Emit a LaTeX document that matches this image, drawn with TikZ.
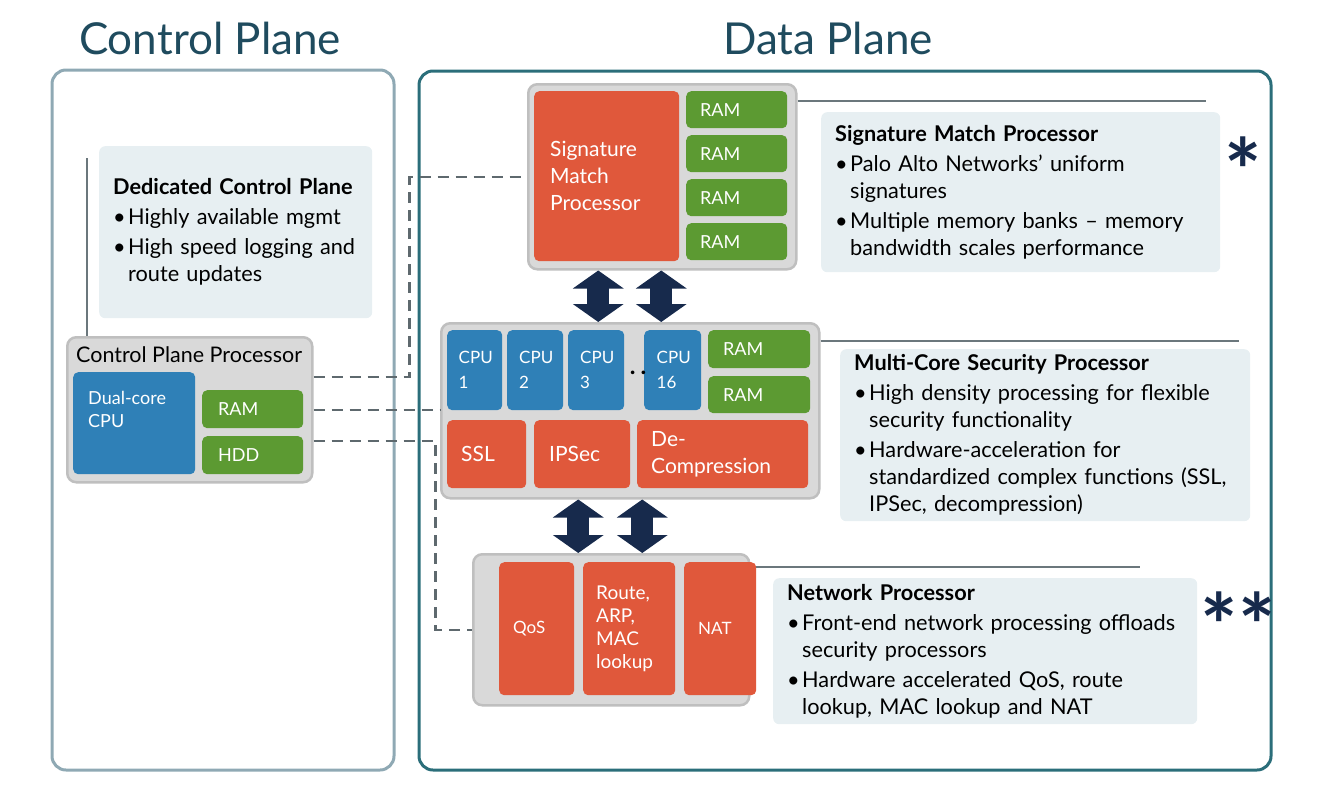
\documentclass[tikz,border=0pt]{standalone}
\usepackage{fontspec}
\setmainfont{Lato}
\usetikzlibrary{arrows.meta}

\definecolor{titleblue}{HTML}{1F4B5E}
\definecolor{cpedge}{HTML}{8FA9B4}
\definecolor{dpedge}{HTML}{2B6E7A}
\definecolor{chipgray}{HTML}{D9D9D9}
\definecolor{chipedge}{HTML}{BFBFBF}
\definecolor{accred}{HTML}{E0583B}
\definecolor{ramgreen}{HTML}{5C9A32}
\definecolor{cpublue}{HTML}{2F80B7}
\definecolor{notebg}{HTML}{E7EFF2}
\definecolor{busnavy}{HTML}{172A4C}
\definecolor{linkgray}{HTML}{5E696E}
\definecolor{leadgray}{HTML}{6B777C}

\newcommand{\bul}{\makebox[15pt][l]{\textbullet}}
\newcommand{\ind}{\hspace*{15pt}}

\begin{document}
\begin{tikzpicture}[x=1pt,y=-1pt,
  plane/.style={rounded corners=14pt, line width=3pt},
  ptitle/.style={text=titleblue, font=\fontsize{44}{44}\selectfont},
  chip/.style={draw=chipedge, fill=chipgray, line width=2.5pt, rounded corners=9pt,
    anchor=north west, inner sep=0pt},
  blk/.style={rounded corners=5pt, text=white, align=left, anchor=north west,
    inner ysep=0pt, inner xsep=14pt},
  ram/.style={blk, fill=ramgreen, font=\fontsize{18}{22}\selectfont},
  cpu/.style={blk, fill=cpublue, font=\fontsize{17}{25}\selectfont},
  acc/.style={blk, fill=accred, font=\fontsize{21}{27}\selectfont},
  lbl/.style={inner sep=0pt, align=left},
  note/.style={fill=notebg, rounded corners=6pt, anchor=north west, align=left,
    inner xsep=14pt, inner ysep=0pt, font=\fontsize{21.7}{27}\selectfont},
  link/.style={draw=linkgray, line width=2.3pt, dash pattern=on 11pt off 7pt},
  lead/.style={draw=leadgray, line width=1.6pt},
  bus/.style={draw=busnavy, line width=22pt,
    {Triangle[length=18pt,width=50pt]}-{Triangle[length=18pt,width=50pt]}},
  star/.style={text=busnavy, font=\bfseries\fontsize{88}{88}\selectfont, inner sep=0pt}]

  \useasboundingbox (0,0) rectangle (1343,800);

  % planes
  \draw[plane, draw=cpedge] (52,70) rectangle (394,770);
  \draw[plane, draw=dpedge] (419,71) rectangle (1271,770);
  \node[ptitle] (cptitle) at (210,38) {Control Plane};
  \node[ptitle] (dptitle) at (828,38) {Data Plane};

  % control plane processor
  \node[chip, minimum width=245pt, minimum height=145pt] (cpp) at (66,336) {};
  \node[lbl, anchor=west, font=\fontsize{21.5}{25}\selectfont] (cpptitle)
    at ([xshift=10pt,yshift=-19pt]cpp.north west) {Control Plane Processor};
  \node[blk, fill=cpublue, minimum width=122pt, minimum height=102pt] (dual) at (73,372) {};
  \node[lbl, anchor=north west, text=white, font=\fontsize{18}{23}\selectfont] (dualtxt)
    at ([xshift=15pt,yshift=-19pt]dual.north west) {Dual-core\\CPU};
  \node[ram, text width=69pt, inner xsep=16pt, minimum height=38pt] (cpram) at (202,390) {RAM};
  \node[ram, text width=69pt, inner xsep=16pt, minimum height=38pt] (cphdd) at (202,436) {HDD};

  % signature match processor
  \node[chip, minimum width=268pt, minimum height=185pt] (smp) at (527,83) {};
  \node[acc, text width=113pt, inner xsep=16pt, minimum height=170pt] (smpcore) at (534,91)
    {Signature\\Match\\Processor};
  \foreach \i/\y in {1/91,2/135,3/179,4/223}
    \node[ram, text width=73pt, minimum height=37pt] (smpram\i) at (686,\y) {RAM};

  % multi-core security processor
  \node[chip, minimum width=378pt, minimum height=175pt] (mcsp) at (440,322) {};
  \node[cpu, text width=32pt, inner xsep=0pt, minimum width=55pt, minimum height=80pt] (cpu1) at (447,330) {CPU\\1};
  \node[cpu, text width=32pt, inner xsep=0pt, minimum width=56pt, minimum height=80pt] (cpu2) at (507,330) {CPU\\2};
  \node[cpu, text width=32pt, inner xsep=0pt, minimum width=56pt, minimum height=80pt] (cpu3) at (568,330) {CPU\\3};
  \node[cpu, text width=32pt, inner xsep=0pt, minimum width=57pt, minimum height=80pt] (cpu16) at (644,330) {CPU\\16};
  \node[lbl, font=\bfseries\fontsize{24}{24}\selectfont] (cpudots) at (638,373) {.\hspace{5pt}.};
  \node[ram, text width=72pt, inner xsep=15pt, minimum height=38pt] (mcram1) at (708,330) {RAM};
  \node[ram, text width=72pt, inner xsep=15pt, minimum height=37pt] (mcram2) at (708,376) {RAM};
  \node[acc, text width=51pt, minimum height=68pt] (ssl) at (447,420) {SSL};
  \node[acc, text width=66pt, inner xsep=15pt, minimum height=68pt] (ipsec) at (534,420) {IPSec};
  \node[acc, text width=143pt, minimum height=68pt] (decomp) at (637,420) {De-\\Compression};

  % network processor
  \node[chip, minimum width=276pt, minimum height=151pt] (np) at (472,553) {};
  \node[acc, font=\fontsize{17}{23}\selectfont, text width=47pt,
    minimum height=133pt] (qos) at (499,562) {QoS};
  \node[acc, font=\fontsize{19}{23}\selectfont, text width=66pt, inner xsep=13pt,
    minimum height=133pt] (route) at (583,562) {Route,\\ARP,\\MAC\\lookup};
  \node[acc, font=\fontsize{17}{23}\selectfont, text width=44pt,
    minimum height=133pt] (nat) at (684,562) {NAT};

  % buses between processors
  \draw[bus] ([xshift=-64pt]smp.south) -- ([xshift=-32pt]mcsp.north);
  \draw[bus] ([xshift=-1pt]smp.south) -- ([xshift=31pt]mcsp.north);
  \draw[bus] ([xshift=-52pt]mcsp.south) -- ([xshift=-33pt]np.north);
  \draw[bus] ([xshift=12pt]mcsp.south) -- ([xshift=31pt]np.north);

  % control links
  \draw[link] ([yshift=33pt]cpp.east) -- ++(96,0) |- (smp.west);
  \draw[link] (cpp.east) -- (cpp.east -| mcsp.west);
  \draw[link] ([yshift=-31.5pt]cpp.east) -- ++(122,0) |- (np.west);

  % callouts
  \node[note, text width=245pt, minimum height=172pt] (dcpnote) at (99,146)
    {\textbf{Dedicated Control Plane}\\[3pt]
     \bul Highly available mgmt\\[3pt]
     \bul High speed logging and\\
     \ind route updates};
  \coordinate (dcptop) at (87,158);
  \draw[lead] (dcptop) -- (dcptop |- cpp.north);

  \node[note, text width=371pt, minimum height=160pt] (smpnote) at (821,112)
    {\textbf{Signature Match Processor}\\[3pt]
     \bul Palo Alto Networks’ uniform\\
     \ind signatures\\[3pt]
     \bul Multiple memory banks – memory\\
     \ind bandwidth scales performance};
  \draw[lead] ([yshift=75.5pt]smp.east) -- ++(408,0);

  \node[note, text width=382pt, minimum height=172pt] (mcspnote) at (840,349)
    {\textbf{Multi-Core Security Processor}\\[3pt]
     \bul High density processing for flexible\\
     \ind security functionality\\[3pt]
     \bul Hardware-acceleration for\\
     \ind standardized complex functions (SSL,\\
     \ind IPSec, decompression)};
  \draw[lead] ([yshift=69.5pt]mcsp.east) -- ++(418,0);

  \node[note, text width=396pt, minimum height=146pt] (npnote) at (773,578)
    {\textbf{Network Processor}\\[3pt]
     \bul Front-end network processing offloads\\
     \ind security processors\\[3pt]
     \bul Hardware accelerated QoS, route\\
     \ind lookup, MAC lookup and NAT};
  \draw[lead] ([yshift=61.5pt]nat.east) -- ++(384,0);

  % footnote marks
  \node[star] (smpstar) at (1243,170) {*};
  \node[star] (npstar) at (1238,625) {**};
\end{tikzpicture}
\end{document}
